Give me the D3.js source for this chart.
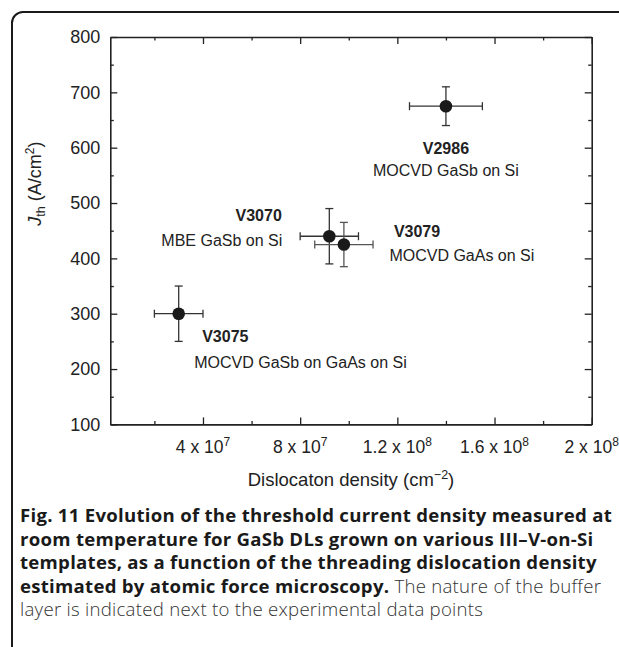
<!DOCTYPE html>
<html>
<head>
<meta charset="utf-8">
<script src="https://cdn.jsdelivr.net/npm/d3@7"></script>
<style>
  html, body { margin: 0; padding: 0; background: #fff; }
  svg { display: block; }
</style>
</head>
<body>
<svg id="chart" width="619" height="647"></svg>
<script>
// ---- data ----
const samples   = ["V2986", "V3070", "V3079", "V3075"];
const buffers   = ["MOCVD GaSb on Si", "MBE GaSb on Si", "MOCVD GaAs on Si", "MOCVD GaSb on GaAs on Si"];
const density   = [1.4e8, 9.2e7, 9.8e7, 3.0e7];     // cm^-2
const densityErr= [1.5e7, 1.2e7, 1.2e7, 1.0e7];
const jth       = [675, 440, 425, 300];              // A/cm^2
const jthErr    = [35, 50, 40, 50];

const xMajorTicks = [4e7, 8e7, 1.2e8, 1.6e8, 2e8];
const xMinorTicks = [2e7, 6e7, 1.0e8, 1.4e8, 1.8e8];
const xTickMant   = ["4", "8", "1.2", "1.6", "2"];
const xTickExp    = ["7", "7", "8", "8", "8"];
const yMajorTicks = [100, 200, 300, 400, 500, 600, 700, 800];
const yMinorTicks = [150, 250, 350, 450, 550, 650, 750];

const captionBold = [
  "Fig. 11 Evolution of the threshold current density measured at",
  "room temperature for GaSb DLs grown on various III\u2013V-on-Si",
  "templates, as a function of the threading dislocation density",
  "estimated by atomic force microscopy."
];
const captionRegularTail = " The nature of the buffer";
const captionLast = "layer is indicated next to the experimental data points";

// ---- layout ----
const svg = d3.select("#chart");
const L = 110.3, R = 591.7, T = 37, B = 424.4;
const x = d3.scaleLinear().domain([1.85e6, 2e8]).range([L, R]);
const y = d3.scaleLinear().domain([100, 800]).range([B, T]);
const axisColor = "#222";
const FONT = "'Liberation Sans', Arial, Helvetica, sans-serif";

// outer rounded frame
svg.append("rect")
  .attr("x", 12).attr("y", 12).attr("width", 640).attr("height", 660)
  .attr("rx", 11).attr("ry", 11)
  .attr("fill", "none").attr("stroke", "#1a1a1a").attr("stroke-width", 2);

// axes (ticks inward, mirrored)
function styleAxis(g) {
  g.selectAll("path").attr("stroke", axisColor).attr("stroke-width", 1.6);
  g.selectAll("line").attr("stroke", axisColor).attr("stroke-width", 1.3);
  g.selectAll("text").remove();
}
const mk = (gen, tx, ty, ticks, size) => {
  const g = svg.append("g").attr("transform", `translate(${tx},${ty})`)
    .call(gen.tickValues(ticks).tickSize(size).tickSizeOuter(0).tickFormat(""));
  styleAxis(g);
  return g;
};
mk(d3.axisBottom(x), 0, B, xMajorTicks, -7);
mk(d3.axisBottom(x), 0, B, xMinorTicks, -3.5).select("path").remove();
mk(d3.axisTop(x), 0, T, xMajorTicks, -7);
mk(d3.axisTop(x), 0, T, xMinorTicks, -3.5).select("path").remove();
mk(d3.axisLeft(y), L, 0, yMajorTicks, -7);
mk(d3.axisLeft(y), L, 0, yMinorTicks, -3.5).select("path").remove();
mk(d3.axisRight(y), R, 0, yMajorTicks, -7);
mk(d3.axisRight(y), R, 0, yMinorTicks, -3.5).select("path").remove();

// y tick labels
svg.append("g").selectAll("text").data(yMajorTicks).join("text")
  .attr("x", L - 10).attr("y", d => y(d)).attr("dy", "0.35em")
  .attr("text-anchor", "end")
  .attr("font-family", FONT).attr("font-size", 18).attr("fill", "#222")
  .text(d => d);

// x tick labels with superscript exponent
const xl = svg.append("g").selectAll("text").data(xMajorTicks).join("text")
  .attr("x", d => x(d)).attr("y", 453)
  .attr("text-anchor", "middle")
  .attr("font-family", FONT).attr("font-size", 17.5).attr("fill", "#222");
xl.append("tspan").text((d, i) => xTickMant[i] + " x 10");
xl.append("tspan").attr("dy", -7.5).attr("font-size", 12).text((d, i) => xTickExp[i]);

// x axis title
const xt = svg.append("text")
  .attr("x", (L + R) / 2).attr("y", 486).attr("text-anchor", "middle")
  .attr("font-family", FONT).attr("font-size", 18.5).attr("fill", "#222");
xt.append("tspan").text("Dislocaton density (cm");
xt.append("tspan").attr("dy", -7.5).attr("font-size", 12.5).text("\u22122");
xt.append("tspan").attr("dy", 7.5).text(")");

// y axis title
const yt = svg.append("text")
  .attr("transform", `translate(41,${y(535)}) rotate(-90)`)
  .attr("text-anchor", "middle")
  .attr("font-family", FONT).attr("font-size", 18).attr("fill", "#222");
yt.append("tspan").attr("font-style", "italic").text("J");
yt.append("tspan").attr("dy", 4).attr("font-size", 12.5).text("th");
yt.append("tspan").attr("dy", -4).text(" (A/cm");
yt.append("tspan").attr("dy", -7.5).attr("font-size", 12).text("2");
yt.append("tspan").attr("dy", 7.5).text(")");

// data points with error bars
const pts = samples.map((s, i) => ({
  s, buf: buffers[i], x: density[i], xe: densityErr[i], y: jth[i], ye: jthErr[i]
}));
const barColor = ["#333", "#333", "#555", "#333"];
const cap = 4;
const pg = svg.append("g").selectAll("g").data(pts).join("g");
pg.append("line")
  .attr("x1", d => x(d.x - d.xe)).attr("x2", d => x(d.x + d.xe))
  .attr("y1", d => y(d.y)).attr("y2", d => y(d.y))
  .attr("stroke", (d, i) => barColor[i]).attr("stroke-width", 1.3);
pg.append("line")
  .attr("x1", d => x(d.x)).attr("x2", d => x(d.x))
  .attr("y1", d => y(d.y - d.ye)).attr("y2", d => y(d.y + d.ye))
  .attr("stroke", (d, i) => barColor[i]).attr("stroke-width", 1.3);
[-1, 1].forEach(sgn => {
  pg.append("line")
    .attr("x1", d => x(d.x + sgn * d.xe)).attr("x2", d => x(d.x + sgn * d.xe))
    .attr("y1", d => y(d.y) - cap).attr("y2", d => y(d.y) + cap)
    .attr("stroke", (d, i) => barColor[i]).attr("stroke-width", 1.3);
  pg.append("line")
    .attr("x1", d => x(d.x) - cap).attr("x2", d => x(d.x) + cap)
    .attr("y1", d => y(d.y + sgn * d.ye)).attr("y2", d => y(d.y + sgn * d.ye))
    .attr("stroke", (d, i) => barColor[i]).attr("stroke-width", 1.3);
});
pg.append("circle")
  .attr("cx", d => x(d.x)).attr("cy", d => y(d.y)).attr("r", 6.3)
  .attr("fill", "#1a1a1a");

// annotation offsets relative to each point: [dxBold, dyBold, dxSub, dySub, anchor]
const labelOffsets = [
  [0, 48, 0, 70, "middle"],
  [-47.5, -15, -47, 9.5, "end"],
  [50, -8, 45.5, 16, "start"],
  [23.5, 28.5, 15.5, 54, "start"]
];
pg.append("text")
  .attr("x", (d, i) => x(d.x) + labelOffsets[i][0])
  .attr("y", (d, i) => y(d.y) + labelOffsets[i][1])
  .attr("text-anchor", (d, i) => labelOffsets[i][4])
  .attr("font-family", FONT).attr("font-size", 16).attr("font-weight", "bold").attr("fill", "#222")
  .text(d => d.s);
pg.append("text")
  .attr("x", (d, i) => x(d.x) + labelOffsets[i][2])
  .attr("y", (d, i) => y(d.y) + labelOffsets[i][3])
  .attr("text-anchor", (d, i) => labelOffsets[i][4])
  .attr("font-family", FONT).attr("font-size", 16).attr("fill", "#222")
  .text(d => d.buf);

// caption
const CAPF = "'Open Sans', 'Noto Sans', sans-serif";
const capX = 20, capY0 = 522, capDY = 23.6, capSize = 18.6;
const probe = svg.append("text").attr("font-family", CAPF).attr("font-weight", "bold")
  .attr("font-size", capSize).text(captionBold[0]);
const w0 = probe.node().getComputedTextLength();
probe.remove();
const ls = Math.max(0, (592 - w0) / captionBold[0].length);
const cap1 = svg.append("g").attr("font-family", CAPF).attr("font-size", capSize)
  .attr("letter-spacing", ls).attr("fill", "#1a1a1a");
captionBold.forEach((line, i) => {
  const t = cap1.append("text").attr("x", capX).attr("y", capY0 + i * capDY);
  t.append("tspan").attr("font-weight", "bold").text(line);
  if (i === captionBold.length - 1) {
    t.append("tspan").attr("font-weight", 300).attr("fill", "#333").text(captionRegularTail);
  }
});
cap1.append("text").attr("x", capX).attr("y", capY0 + captionBold.length * capDY)
  .attr("font-weight", 300).attr("fill", "#333").text(captionLast);
</script>
</body>
</html>
